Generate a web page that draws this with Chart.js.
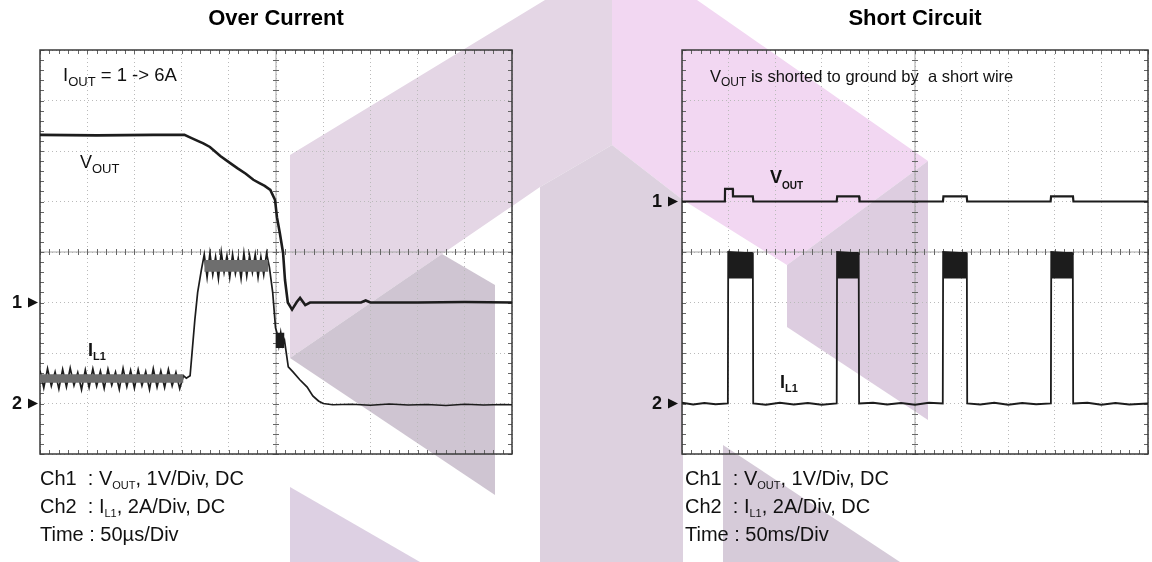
<!DOCTYPE html>
<html>
<head>
<meta charset="utf-8">
<script src="https://cdn.jsdelivr.net/npm/chart.js@4.4.1/dist/chart.umd.min.js"></script>
<style>
  body { margin: 0; background: #fff; }
  #page { position: relative; width: 1152px; height: 562px; overflow: hidden; }
  #page svg, #page canvas { position: absolute; top: 0; }
</style>
</head>
<body>
<div id="page">
  <!-- background watermark -->
  <svg width="1152" height="562" style="left:0">
    <polygon points="290,155 545,0 612,0 612,145 540,187 290,358" fill="#e4d6e5"/>
    <polygon points="290,358 442,254 495,285 495,495" fill="#cfc5d2"/>
    <polygon points="612,0 697,0 928,161 787,265 683,200 612,145" fill="#f2d7f2"/>
    <polygon points="540,187 612,145 683,200 683,562 540,562" fill="#ddd1df"/>
    <polygon points="787,265 928,161 928,420 787,327" fill="#ddcde0"/>
    <polygon points="290,487 290,562 420,562" fill="#ddd0e3"/>
    <polygon points="723,445 723,562 900,562" fill="#d6cbd9"/>
  </svg>
  <canvas id="ocChart" width="576" height="562" style="left:0"></canvas>
  <canvas id="scChart" width="576" height="562" style="left:576px"></canvas>
</div>
<script>
const FONT = '"Liberation Sans", Arial, sans-serif';

// Over Current: time in us, Ch1 in V, Ch2 in A
const ocVoutTime = [0, 60, 120, 153, 160, 167, 173, 180, 191, 200, 209, 218, 226, 232, 238, 244, 249, 251, 254, 257.5, 259.5, 262.5, 267, 272, 275.5, 281, 286, 300, 340, 345, 350, 400, 450, 500];
const ocVout = [3.32, 3.31, 3.32, 3.32, 3.26, 3.2, 3.15, 3.08, 2.9, 2.78, 2.66, 2.55, 2.43, 2.37, 2.31, 2.23, 2.03, 1.69, 1.38, 0.98, 0.45, 0.0, -0.14, 0.01, 0.09, -0.05, 0.0, 0.0, 0.0, 0.04, 0.0, 0.0, 0.01, 0.0];

const ocIlTime = [0, 4, 8, 12, 16, 20, 24, 28, 32, 36, 40, 44, 48, 52, 56, 60, 64, 68, 72, 76, 80, 84, 88, 92, 96, 100, 104, 108, 112, 116, 120, 124, 128, 132, 136, 140, 144, 148, 152,
  155, 159, 164, 167, 171,
  174, 177, 180, 183, 186, 189, 192, 195, 198, 201, 204, 207, 210, 213, 216, 219, 222, 225, 228, 231, 234, 237, 240, 243,
  246.5, 249.5, 251, 253, 255, 257, 259,
  263, 268, 275, 283, 289, 295, 300, 310,
  330, 350, 370, 390, 410, 430, 450, 470, 490, 500];
const ocIl = [1.30, 0.62, 1.38, 0.70, 1.25, 0.58, 1.35, 0.66, 1.40, 0.72, 1.22, 0.55, 1.33, 0.64, 1.37, 0.69, 1.28, 0.60, 1.36, 0.73, 1.24, 0.57, 1.39, 0.67, 1.31, 0.61, 1.34, 0.71, 1.26, 0.56, 1.38, 0.65, 1.29, 0.63, 1.35, 0.70, 1.23, 0.59, 1.10,
  1.0, 1.1, 3.3, 4.4, 5.3,
  5.9, 5.0, 5.95, 5.1, 5.8, 4.95, 6.0, 5.2, 5.85, 5.0, 5.9, 5.15, 5.75, 4.95, 5.95, 5.05, 5.85, 5.2, 5.9, 5.0, 5.8, 5.1, 5.95, 5.4,
  4.4, 3.0, 2.8, 2.3, 2.8, 2.3, 2.5,
  1.45, 1.25, 0.95, 0.65, 0.3, 0.1, 0.0, -0.05,
  -0.03, -0.07, -0.02, -0.06, -0.04, -0.08, -0.03, -0.06, -0.04, -0.05];
// ripple envelopes (dense part of the I_L1 trace)
const ocBandStart = [0, 174, 249.5];
const ocBandEnd = [152, 242, 259];
const ocBandTop = [1.16, 5.68, 2.8];
const ocBandBottom = [0.82, 5.22, 2.2];
const ocBandShade = ['#6e6e6e', '#6e6e6e', '#1c1c1c'];

// Short Circuit: time in ms
const scVoutTime = [0, 46, 46.2, 54.5, 54.7, 76, 76.5, 166, 166.5, 190, 190.5, 280, 280.5, 305.5, 306, 395.5, 396, 419.5, 420, 500];
const scVout = [0, 0, 0.25, 0.25, 0.1, 0.1, 0, 0, 0.1, 0.1, 0, 0, 0.1, 0.1, 0, 0, 0.1, 0.1, 0, 0];

const scIlTime = [0, 12, 24, 36, 49.2, 49.6, 76, 76.4, 90, 105, 120, 135, 150, 166, 166.4, 189.6, 190, 205, 220, 235, 250, 265, 279.8, 280.2, 305.6, 306, 320, 335, 350, 365, 380, 395.8, 396.2, 419.3, 419.7, 435, 450, 465, 480, 500];
const scIl = [0.03, -0.04, 0.02, -0.03, 0, 6.0, 5.95, 0, -0.05, 0.03, -0.04, 0.02, -0.05, 0, 6.0, 5.95, 0, 0.03, -0.04, 0.02, -0.05, 0.03, 0, 6.0, 5.95, 0, -0.04, 0.03, -0.05, 0.02, -0.03, 0, 6.0, 5.95, 0, 0.03, -0.05, 0.02, -0.04, 0.0];
const scBandStart = [49.6, 166.4, 280.2, 396.2];
const scBandEnd = [76, 189.6, 305.6, 419.3];
const scBandTop = [6, 6, 6, 6];
const scBandBottom = [4.95, 4.95, 4.95, 4.95];
const scBandShade = ['#1c1c1c', '#1c1c1c', '#1c1c1c', '#1c1c1c'];

const INK = '#1c1c1c';

const toPoints = (t, v) => t.map((x, i) => ({x, y: v[i]}));

function trace(t, v, axis, width) {
  return {
    data: toPoints(t, v),
    yAxisID: axis,
    borderColor: INK,
    borderWidth: width,
    pointRadius: 0,
    fill: false
  };
}

// switching ripple regions, filled between top and bottom
function bands(start, end, top, bottom, shade) {
  return start.map((s, i) => ({
    data: [{x: s, y: top[i]}, {x: end[i], y: top[i]}],
    yAxisID: 'y2',
    borderColor: shade[i],
    borderWidth: 0,
    backgroundColor: shade[i],
    pointRadius: 0,
    fill: {value: bottom[i]}
  }));
}

function drawParts(ctx, parts, x, y, bold) {
  for (const [txt, size, dy = 0] of parts) {
    ctx.font = (bold ? 'bold ' : '') + size + 'px ' + FONT;
    ctx.fillText(txt, x, y + dy);
    x += ctx.measureText(txt).width;
  }
}

const scopeDeco = {
  id: 'scopeDeco',
  beforeDatasetsDraw(chart, args, o) {
    const {ctx, chartArea: a, scales} = chart;
    const cx = scales.x.getPixelForValue((scales.x.min + scales.x.max) / 2);
    const cy = scales.y.getPixelForValue((scales.y.min + scales.y.max) / 2);
    ctx.save();
    ctx.strokeStyle = '#a5a5a5';
    ctx.lineWidth = 1;
    ctx.beginPath();
    ctx.moveTo(a.left, cy); ctx.lineTo(a.right, cy);
    ctx.moveTo(cx, a.top); ctx.lineTo(cx, a.bottom);
    ctx.stroke();
    // five minor ticks per division on frame and centre lines
    ctx.strokeStyle = '#666';
    ctx.beginPath();
    for (let i = 0; i <= 50; i++) {
      const px = Math.round(a.left + a.width * i / 50) + 0.5;
      ctx.moveTo(px, a.top); ctx.lineTo(px, a.top + 4);
      ctx.moveTo(px, a.bottom); ctx.lineTo(px, a.bottom - 4);
      ctx.moveTo(px, cy - 3); ctx.lineTo(px, cy + 3);
    }
    for (let j = 0; j <= 40; j++) {
      const py = Math.round(a.top + a.height * j / 40) + 0.5;
      ctx.moveTo(a.left, py); ctx.lineTo(a.left + 4, py);
      ctx.moveTo(a.right, py); ctx.lineTo(a.right - 4, py);
      ctx.moveTo(cx - 3, py); ctx.lineTo(cx + 3, py);
    }
    ctx.stroke();
    ctx.strokeStyle = '#3a3a3a';
    ctx.lineWidth = 1.5;
    ctx.strokeRect(a.left, a.top, a.width, a.height);
    ctx.restore();
  },
  afterDraw(chart, args, o) {
    const {ctx, chartArea: a, scales} = chart;
    ctx.save();
    ctx.fillStyle = '#111';
    // channel ground markers
    for (const m of o.markers) {
      const py = scales[m.axis].getPixelForValue(0);
      ctx.font = 'bold 18px ' + FONT;
      ctx.textAlign = 'right';
      ctx.textBaseline = 'middle';
      ctx.fillText(m.label, a.left - o.markerGap, py + 1);
      ctx.beginPath();
      ctx.moveTo(a.left - o.markerGap + 6, py - 5);
      ctx.lineTo(a.left - o.markerGap + 16, py);
      ctx.lineTo(a.left - o.markerGap + 6, py + 5);
      ctx.closePath();
      ctx.fill();
    }
    ctx.textAlign = 'left';
    ctx.textBaseline = 'alphabetic';
    for (const n of o.notes) {
      drawParts(ctx, n.parts, a.left + n.dx, a.top + n.dy, n.bold);
    }
    o.footer.forEach((line, i) => {
      drawParts(ctx, line, a.left + o.footerDx, a.bottom + 31 + i * 28, false);
    });
    ctx.restore();
  }
};

function scopeChart(id, title, ch1Min, ch1Max, datasets, deco) {
  return new Chart(document.getElementById(id), {
    type: 'line',
    data: {datasets},
    options: {
      responsive: false,
      animation: false,
      events: [],
      layout: {padding: deco.padding},
      plugins: {
        legend: {display: false},
        tooltip: {enabled: false},
        title: {
          display: true,
          text: title,
          color: '#000',
          font: {family: FONT, size: 22, weight: 'bold'},
          padding: {top: 6, bottom: 17.6}
        },
        scopeDeco: deco
      },
      scales: {
        x: {
          type: 'linear', min: 0, max: 500,
          ticks: {display: false, stepSize: 50},
          grid: {color: '#bababa', drawTicks: false},
          border: {display: false, dash: [1, 3]}
        },
        y: {
          type: 'linear', min: ch1Min, max: ch1Max,
          ticks: {display: false, stepSize: 1},
          grid: {color: '#bababa', drawTicks: false},
          border: {display: false, dash: [1, 3]}
        },
        y2: {type: 'linear', display: false, min: -2, max: 14}
      }
    },
    plugins: [scopeDeco]
  });
}

scopeChart('ocChart', 'Over Current', -3, 5, [
  ...bands(ocBandStart, ocBandEnd, ocBandTop, ocBandBottom, ocBandShade),
  trace(ocVoutTime, ocVout, 'y', 2.6),
  trace(ocIlTime, ocIl, 'y2', 1.7)
], {
  padding: {left: 40, right: 64, top: 0, bottom: 108},
  markerGap: 18,
  markers: [{label: '1', axis: 'y'}, {label: '2', axis: 'y2'}],
  notes: [
    {dx: 23, dy: 31, parts: [['I', 18.5], ['OUT', 13, 5], [' = 1 -> 6A', 18.5]]},
    {dx: 40, dy: 118, parts: [['V', 18], ['OUT', 13, 5]]},
    {dx: 48, dy: 306, bold: true, parts: [['I', 18], ['L1', 11, 4]]}
  ],
  footerDx: 0,
  footer: [
    [['Ch1  : V', 20], ['OUT', 11, 4], [', 1V/Div, DC', 20]],
    [['Ch2  : I', 20], ['L1', 11, 4], [', 2A/Div, DC', 20]],
    [['Time : 50\u00b5s/Div', 20]]
  ]
});

scopeChart('scChart', 'Short Circuit', -5, 3, [
  ...bands(scBandStart, scBandEnd, scBandTop, scBandBottom, scBandShade),
  trace(scVoutTime, scVout, 'y', 2.2),
  trace(scIlTime, scIl, 'y2', 1.8)
], {
  padding: {left: 106, right: 4, top: 0, bottom: 108},
  markerGap: 20,
  markers: [{label: '1', axis: 'y'}, {label: '2', axis: 'y2'}],
  notes: [
    {dx: 28, dy: 32, parts: [['V', 16.5], ['OUT', 12, 4], [' is shorted to ground by  a short wire', 16.5]]},
    {dx: 88, dy: 133, bold: true, parts: [['V', 18], ['OUT', 10, 6]]},
    {dx: 98, dy: 338, bold: true, parts: [['I', 18], ['L1', 11, 4]]}
  ],
  footerDx: 3,
  footer: [
    [['Ch1  : V', 20], ['OUT', 11, 4], [', 1V/Div, DC', 20]],
    [['Ch2  : I', 20], ['L1', 11, 4], [', 2A/Div, DC', 20]],
    [['Time : 50ms/Div', 20]]
  ]
});
</script>
</body>
</html>
